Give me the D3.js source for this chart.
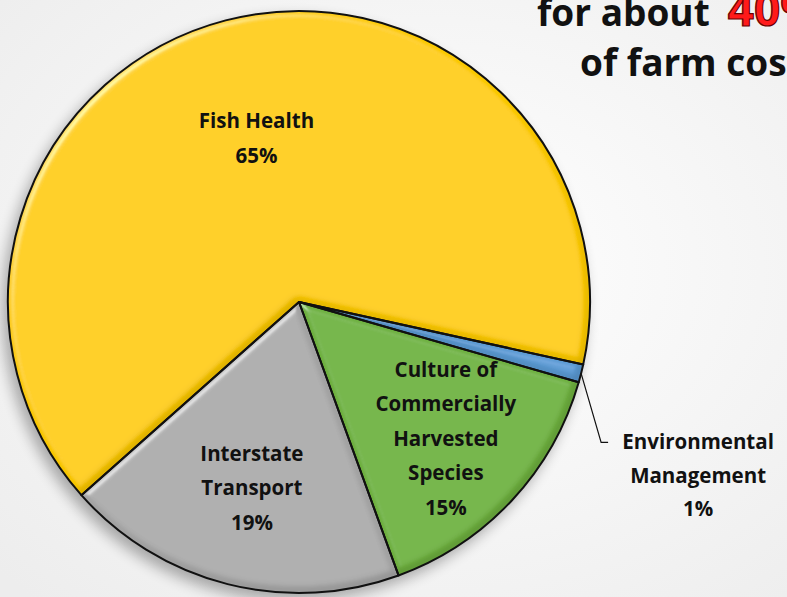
<!DOCTYPE html>
<html>
<head>
<meta charset="utf-8">
<script src="https://cdn.jsdelivr.net/npm/d3@7"></script>
<style>
  body { margin: 0; overflow: hidden; }
  text { font-family: "Open Sans", Lato, sans-serif; font-weight: bold; }
</style>
</head>
<body>
<div id="chart-area"></div>
<script>
// SVG Size
let width = 787,
	height = 597;

// chart data (clockwise order from the top-left)
let categories = ["Fish Health", "Environmental Management", "Culture of Commercially Harvested Species", "Interstate Transport"];
let shares = [65, 1, 15, 19];
let labelLines = [
	["Fish Health", "65%"],
	["Environmental", "Management", "1%"],
	["Culture of", "Commercially", "Harvested", "Species", "15%"],
	["Interstate", "Transport", "19%"]
];
let titleLines = ["for about", "40%", "of farm costs"];

let colors = ["#FFCC00", "#5B9BD5", "#6FB23F", "#ABABAB"];

drawChart();

function drawChart() {
	let svg = d3.select("#chart-area")
		.append("svg")
		.attr("width", width)
		.attr("height", height);

	let defs = svg.append("defs");

	// page background
	let bg = defs.append("radialGradient").attr("id", "bg")
		.attr("cx", "55%").attr("cy", "45%").attr("r", "75%");
	bg.append("stop").attr("offset", "0%").attr("stop-color", "#FFFFFF");
	bg.append("stop").attr("offset", "100%").attr("stop-color", "#EDEDED");

	svg.append("rect")
		.attr("width", width)
		.attr("height", height)
		.attr("fill", "url(#bg)");

	// bevel look on the slices
	let bevel = defs.append("filter").attr("id", "bevel")
		.attr("x", "-10%").attr("y", "-10%").attr("width", "120%").attr("height", "120%");
	bevel.append("feGaussianBlur").attr("in", "SourceAlpha").attr("stdDeviation", 3).attr("result", "blur");
	let spec = bevel.append("feSpecularLighting").attr("in", "blur")
		.attr("surfaceScale", 4).attr("specularConstant", 0.8)
		.attr("specularExponent", 22).attr("lighting-color", "#ffffff").attr("result", "spec");
	spec.append("feDistantLight").attr("azimuth", 225).attr("elevation", 35);
	bevel.append("feComposite").attr("in", "spec").attr("in2", "SourceAlpha").attr("operator", "in").attr("result", "specIn");
	// dark rim on the lower edges
	bevel.append("feOffset").attr("in", "blur").attr("dx", -3).attr("dy", -4).attr("result", "off");
	bevel.append("feComposite").attr("in", "SourceAlpha").attr("in2", "off").attr("operator", "out").attr("result", "rim");
	bevel.append("feGaussianBlur").attr("in", "rim").attr("stdDeviation", 2).attr("result", "rimBlur");
	bevel.append("feComposite").attr("in", "rimBlur").attr("in2", "SourceAlpha").attr("operator", "in").attr("result", "rimIn");
	bevel.append("feComponentTransfer").attr("in", "rimIn").attr("result", "rimDark")
		.append("feFuncA").attr("type", "linear").attr("slope", 0.4);
	bevel.append("feComposite").attr("in", "SourceGraphic").attr("in2", "specIn")
		.attr("operator", "arithmetic").attr("k1", 0).attr("k2", 1).attr("k3", 0.4).attr("k4", 0).attr("result", "lit");
	let merge = bevel.append("feMerge");
	merge.append("feMergeNode").attr("in", "lit");
	merge.append("feMergeNode").attr("in", "rimDark");

	// soft shadow under the pie
	let shadow = defs.append("filter").attr("id", "shadow")
		.attr("x", "-20%").attr("y", "-20%").attr("width", "140%").attr("height", "140%");
	shadow.append("feGaussianBlur").attr("stdDeviation", 7);

	let cx = 299, cy = 302, radius = 291;

	let pie = d3.pie()
		.sort(null)
		.value(d => d)
		.startAngle(-131.6 * Math.PI / 180)
		.endAngle((360 - 131.6) * Math.PI / 180);

	let arcs = pie(shares);

	let arc = d3.arc()
		.innerRadius(0)
		.outerRadius(radius);

	let g = svg.append("g")
		.attr("transform", "translate(" + cx + "," + cy + ")");

	g.append("circle")
		.attr("cx", -5)
		.attr("cy", 7)
		.attr("r", radius + 1)
		.attr("fill", "#000")
		.attr("opacity", 0.3)
		.attr("filter", "url(#shadow)");

	g.selectAll("path.slice")
		.data(arcs)
		.enter()
		.append("path")
		.attr("class", "slice")
		.attr("d", arc)
		.attr("fill", (d, i) => colors[i])
		.attr("filter", "url(#bevel)");

	g.selectAll("path.edge")
		.data(arcs)
		.enter()
		.append("path")
		.attr("class", "edge")
		.attr("d", arc)
		.attr("fill", "none")
		.attr("stroke", "#111")
		.attr("stroke-width", 2)
		.attr("stroke-linejoin", "round");

	// labels inside the slices
	let labelRadius = [0.58, 0, 0.69, 0.66];
	let lineGap = 34.5;

	arcs.forEach((d, i) => {
		if (i === 1) return;
		let la = d3.arc().innerRadius(radius * labelRadius[i]).outerRadius(radius * labelRadius[i]);
		let c = la.centroid(d);
		let lines = labelLines[i];
		let t = g.append("text")
			.attr("text-anchor", "middle")
			.attr("font-size", 20.5)
			.attr("fill", "#111");
		lines.forEach((s, k) => {
			t.append("tspan")
				.attr("x", c[0])
				.attr("y", c[1] + (k - (lines.length - 1) / 2) * lineGap + 7)
				.text(s);
		});
	});

	// outside label with leader line for the thin slice
	let small = arcs[1];
	let mid = (small.startAngle + small.endAngle) / 2;
	let p0 = [Math.sin(mid) * radius, -Math.cos(mid) * radius];
	let p1 = [p0[0] + 20, p0[1] + 69];
	let p2 = [p1[0] + 7, p1[1]];
	g.append("polyline")
		.attr("points", [p0, p1, p2].map(p => p.join(",")).join(" "))
		.attr("fill", "none")
		.attr("stroke", "#111")
		.attr("stroke-width", 1.2);

	let envText = g.append("text")
		.attr("text-anchor", "middle")
		.attr("font-size", 20.5)
		.attr("fill", "#111");
	labelLines[1].forEach((s, k) => {
		envText.append("tspan")
			.attr("x", p2[0] + 90)
			.attr("y", p2[1] + 7 + k * 33.5)
			.text(s);
	});

	// title (cut by the right edge, as in the original slide)
	let title = svg.append("text")
		.attr("font-size", 37)
		.attr("fill", "#111");
	title.append("tspan")
		.attr("x", 537)
		.attr("y", 26)
		.text(titleLines[0]);
	title.append("tspan")
		.attr("dx", 18)
		.attr("fill", "#FF1A1A")
		.attr("stroke", "#6a0000")
		.attr("stroke-width", 1.2)
		.attr("font-size", 46)
		.text(titleLines[1]);
	svg.append("text")
		.attr("x", 580)
		.attr("y", 76)
		.attr("font-size", 37)
		.attr("fill", "#111")
		.text(titleLines[2]);
}
</script>
</body>
</html>
